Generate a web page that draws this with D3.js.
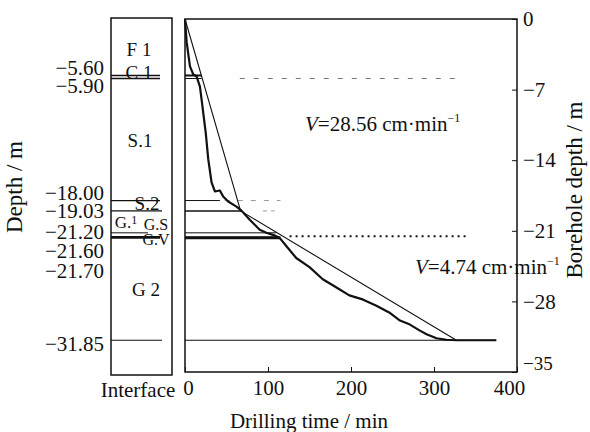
<!DOCTYPE html>
<html>
<head>
<meta charset="utf-8">
<script src="https://cdn.jsdelivr.net/npm/d3@7/dist/d3.min.js"></script>
<style>
  body { margin: 0; background: #fff; }
  text { font-family: "Liberation Serif", "Times New Roman", serif; fill: #111; }
</style>
</head>
<body>
<svg id="chart" width="590" height="432"></svg>
<script>
// layer boundaries (m) and the interface labels
const boundaryDepths = [-5.60, -5.90, -18.00, -19.03, -21.20, -21.60, -21.70, -31.85];
const boundaryLabels = ["−5.60", "−5.90", "−18.00", "−19.03", "−21.20", "−21.60", "−21.70", "−31.85"];
// how far (min) each boundary line runs into the drilling panel
const boundaryReach = [20, 20, 42, 68, 110, 112, 115, 375];

const layerNames = ["F 1", "C 1", "S.1", "S.2", "G.1", "G.S", "G.V", "G 2"];
const layerLabelDepths = [-3.0, -5.3, -12.0, -18.3, -20.1, -20.4, -21.9, -26.8];

// actual drilling record (time in min, depth in m)
const drillTime = [0, 2, 6, 10, 14, 18, 20, 25, 28, 32, 36, 42, 46, 52, 62, 68, 78, 90, 98, 106, 114,
  122, 134, 150, 166, 182, 198, 214, 230, 246, 259, 271, 283, 291, 303, 315, 327, 375];
const drillDepth = [0, -2.3, -4.7, -5.5, -5.7, -6.7, -8.0, -11.3, -13.9, -16.2, -17.1, -17.0, -17.6, -18.1, -18.6, -19.0, -19.9, -20.9, -21.2, -21.4, -21.7,
  -22.5, -23.7, -24.6, -25.8, -26.6, -27.4, -27.8, -28.4, -29.1, -29.9, -30.3, -30.9, -31.25, -31.65, -31.8, -31.85, -31.85];

// fitted two-rate line
const fitTime = [0, 67, 327];
const fitDepth = [0, -19.03, -31.85];

const xTicks = [0, 100, 200, 300, 400];
const yTicks = [0, -7, -14, -21, -28, -35];

const svg = d3.select("#chart");

const x = d3.scaleLinear().domain([0, 400]).range([185, 517]);
const y = d3.scaleLinear().domain([0, -35]).range([19, 372]);

const colL = 111, colR = 172;

// interface column
svg.append("rect")
  .attr("x", colL).attr("y", y(0) - 1)
  .attr("width", colR - colL).attr("height", y(-35) - y(0) + 4)
  .attr("fill", "none").attr("stroke", "#111").attr("stroke-width", 1.5);

const colLineEnd = [160, 160, 160, 162, 148, 160, 160, 162];
const colLineW = [1.5, 1.5, 1.3, 1.3, 1, 1.6, 2, 1.2];
boundaryDepths.forEach((d, i) => {
  svg.append("line")
    .attr("x1", colL).attr("x2", colLineEnd[i])
    .attr("y1", y(d)).attr("y2", y(d))
    .attr("stroke", "#111").attr("stroke-width", colLineW[i]);
});

// depth labels, nudged apart so they do not overlap
const labelNudge = [-8, 7, -8, 0, -1, 14, 33, 3];
boundaryDepths.forEach((d, i) => {
  svg.append("text")
    .attr("x", 104).attr("y", y(d) + labelNudge[i])
    .attr("dy", "0.35em")
    .attr("text-anchor", "end")
    .attr("font-size", 21)
    .text(boundaryLabels[i]);
});

const layerX = [139, 139, 140, 147, 126, 156, 156, 146];
const layerSize = [19, 19, 19, 19, 17, 16, 16, 19];
layerNames.forEach((n, i) => {
  const t = svg.append("text")
    .attr("x", layerX[i]).attr("y", y(layerLabelDepths[i]))
    .attr("dy", "0.35em")
    .attr("text-anchor", "middle")
    .attr("font-size", layerSize[i]);
  if (n === "G.1") {
    t.append("tspan").text("G.");
    t.append("tspan").text("1").attr("dy", -4).attr("font-size", 12);
  } else {
    t.text(n);
  }
});

svg.append("text")
  .attr("x", 138).attr("y", 390).attr("dy", "0.35em")
  .attr("text-anchor", "middle").attr("font-size", 21)
  .text("Interface");

// drilling panel frame
svg.append("rect")
  .attr("x", x(0)).attr("y", y(0))
  .attr("width", x(400) - x(0)).attr("height", y(-35) - y(0))
  .attr("fill", "none").attr("stroke", "#111").attr("stroke-width", 1.5);

// boundary lines inside the panel
const panelLineW = [2, 1, 1, 1.4, 1, 1, 2.6, 1.2];
boundaryDepths.forEach((d, i) => {
  svg.append("line")
    .attr("x1", x(0)).attr("x2", x(boundaryReach[i]))
    .attr("y1", y(d)).attr("y2", y(d))
    .attr("stroke", "#111").attr("stroke-width", panelLineW[i]);
});

// faint dashed continuations from the scan
svg.append("line")
  .attr("x1", x(66)).attr("x2", x(325))
  .attr("y1", y(-5.9)).attr("y2", y(-5.9))
  .attr("stroke", "#777").attr("stroke-width", 1)
  .attr("stroke-dasharray", "5,9");
svg.append("line")
  .attr("x1", x(48)).attr("x2", x(115))
  .attr("y1", y(-18)).attr("y2", y(-18))
  .attr("stroke", "#999").attr("stroke-width", 1)
  .attr("stroke-dasharray", "5,8");
svg.append("line")
  .attr("x1", x(94)).attr("x2", x(108))
  .attr("y1", y(-19.03)).attr("y2", y(-19.03))
  .attr("stroke", "#999").attr("stroke-width", 1)
  .attr("stroke-dasharray", "4,4");
svg.append("line")
  .attr("x1", x(126)).attr("x2", x(338))
  .attr("y1", y(-21.55)).attr("y2", y(-21.55))
  .attr("stroke", "#111").attr("stroke-width", 2)
  .attr("stroke-dasharray", "2,4");

// fitted line
const fitData = fitTime.map((t, i) => ({ t, d: fitDepth[i] }));
const line = d3.line().x(p => x(p.t)).y(p => y(p.d));
svg.append("path")
  .datum(fitData)
  .attr("d", line)
  .attr("fill", "none").attr("stroke", "#111").attr("stroke-width", 1.1);

// drilling record
const drillData = drillTime.map((t, i) => ({ t, d: drillDepth[i] }));
svg.append("path")
  .datum(drillData)
  .attr("d", line)
  .attr("fill", "none").attr("stroke", "#111").attr("stroke-width", 2.2)
  .attr("stroke-linejoin", "round");

// axes
const xAxis = svg.append("g")
  .attr("transform", `translate(0,${y(-35)})`)
  .call(d3.axisBottom(x).tickValues(xTicks).tickSizeInner(-5).tickSizeOuter(0).tickPadding(8));
xAxis.select(".domain").remove();
xAxis.selectAll("line").attr("stroke", "#111");
xAxis.selectAll("text")
  .attr("font-size", 21).attr("fill", "#111")
  .attr("font-family", "Liberation Serif, serif");
xAxis.selectAll("text").filter(d => d === 400).attr("dx", -8);
xAxis.selectAll("text").filter(d => d === 0).attr("dx", 3);

const yAxis = svg.append("g")
  .attr("transform", `translate(${x(400)},0)`)
  .call(d3.axisRight(y).tickValues(yTicks).tickSizeInner(-5).tickSizeOuter(0).tickPadding(6)
    .tickFormat(d => d === 0 ? "0" : "−" + Math.abs(d)));
yAxis.select(".domain").remove();
yAxis.selectAll("line").attr("stroke", "#111");
yAxis.selectAll("text")
  .attr("font-size", 21).attr("fill", "#111")
  .attr("font-family", "Liberation Serif, serif");
yAxis.selectAll("text").filter(d => d === -35).attr("dy", "-0.15em").attr("font-size", 19);

// annotations
const ann1 = svg.append("text").attr("x", 305).attr("y", 131).attr("font-size", 21);
ann1.append("tspan").text("V").attr("font-style", "italic");
ann1.append("tspan").text("=28.56 cm·min");
ann1.append("tspan").text("−1").attr("font-size", 12).attr("dy", -9);

const ann2 = svg.append("text").attr("x", 415).attr("y", 274).attr("font-size", 21);
ann2.append("tspan").text("V").attr("font-style", "italic");
ann2.append("tspan").text("=4.74 cm·min");
ann2.append("tspan").text("−1").attr("font-size", 12).attr("dy", -9);

// axis titles
svg.append("text")
  .attr("transform", "translate(22,187) rotate(-90)")
  .attr("text-anchor", "middle").attr("font-size", 23)
  .text("Depth / m");

svg.append("text")
  .attr("transform", "translate(582,190) rotate(-90)")
  .attr("text-anchor", "middle").attr("font-size", 23)
  .text("Borehole depth / m");

svg.append("text")
  .attr("x", 309).attr("y", 421).attr("dy", "0.35em")
  .attr("text-anchor", "middle").attr("font-size", 21)
  .text("Drilling time / min");
</script>
</body>
</html>
